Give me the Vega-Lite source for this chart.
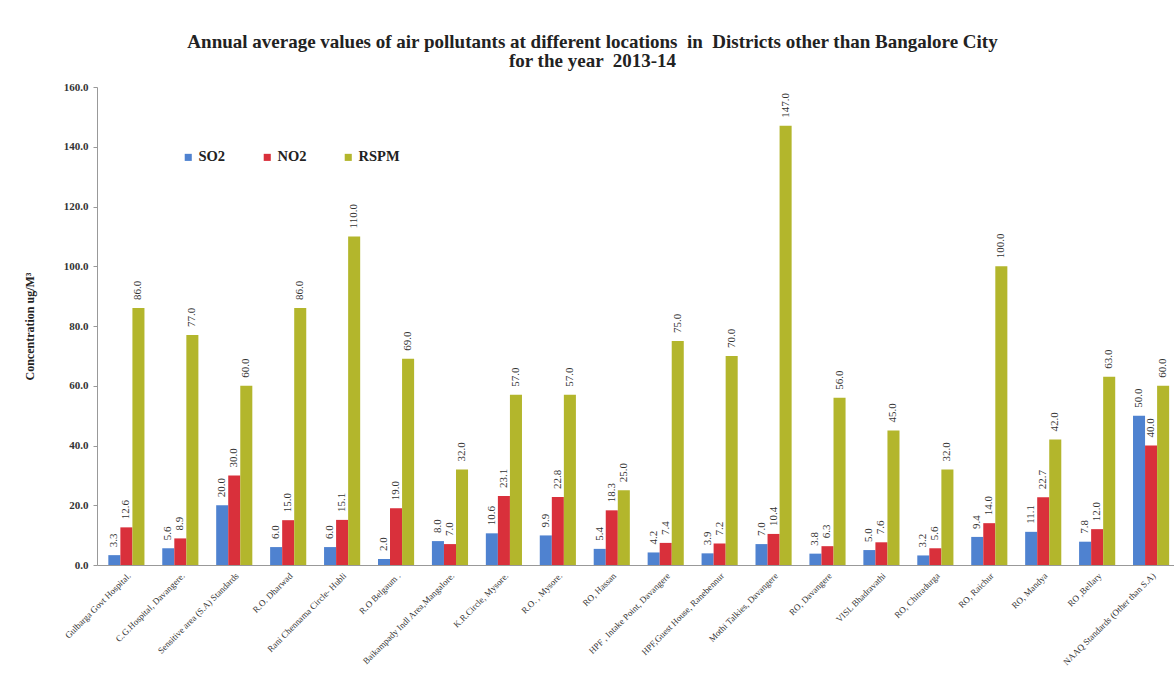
{
  "$schema": "https://vega.github.io/schema/vega-lite/v6.json",
  "autosize": {"type": "none"},
  "width": 1077,
  "height": 478,
  "padding": {"left": 97, "top": 87, "right": 0, "bottom": 113},
  "background": "white",
  "title": {
    "text": ["Annual average values of air pollutants at different locations \u00a0in \u00a0Districts other than Bangalore City", "for the year \u00a02013-14"],
    "font": "Liberation Serif",
    "fontSize": 19,
    "fontWeight": "bold",
    "color": "#222",
    "anchor": "middle",
    "frame": "group",
    "dx": -43,
    "offset": 10,
    "lineHeight": 19
  },
  "config": {
    "view": {"stroke": null},
    "font": "Liberation Serif"
  },
  "data": {
    "values": [
      {"location": "Gulbarga Govt Hospital.", "pollutant": "SO2", "value": 3.3},
      {"location": "Gulbarga Govt Hospital.", "pollutant": "NO2", "value": 12.6},
      {"location": "Gulbarga Govt Hospital.", "pollutant": "RSPM", "value": 86.0},
      {"location": "C.G.Hospital, Davangere.", "pollutant": "SO2", "value": 5.6},
      {"location": "C.G.Hospital, Davangere.", "pollutant": "NO2", "value": 8.9},
      {"location": "C.G.Hospital, Davangere.", "pollutant": "RSPM", "value": 77.0},
      {"location": "Sensitive area (S.A) Standards", "pollutant": "SO2", "value": 20.0},
      {"location": "Sensitive area (S.A) Standards", "pollutant": "NO2", "value": 30.0},
      {"location": "Sensitive area (S.A) Standards", "pollutant": "RSPM", "value": 60.0},
      {"location": "R.O. Dharwad", "pollutant": "SO2", "value": 6.0},
      {"location": "R.O. Dharwad", "pollutant": "NO2", "value": 15.0},
      {"location": "R.O. Dharwad", "pollutant": "RSPM", "value": 86.0},
      {"location": "Rani Chennama Circle- Hubli", "pollutant": "SO2", "value": 6.0},
      {"location": "Rani Chennama Circle- Hubli", "pollutant": "NO2", "value": 15.1},
      {"location": "Rani Chennama Circle- Hubli", "pollutant": "RSPM", "value": 110.0},
      {"location": "R.O Belgaum .", "pollutant": "SO2", "value": 2.0},
      {"location": "R.O Belgaum .", "pollutant": "NO2", "value": 19.0},
      {"location": "R.O Belgaum .", "pollutant": "RSPM", "value": 69.0},
      {"location": "Baikampady Indl Area,Mangalore.", "pollutant": "SO2", "value": 8.0},
      {"location": "Baikampady Indl Area,Mangalore.", "pollutant": "NO2", "value": 7.0},
      {"location": "Baikampady Indl Area,Mangalore.", "pollutant": "RSPM", "value": 32.0},
      {"location": "K.R.Circle, Mysore.", "pollutant": "SO2", "value": 10.6},
      {"location": "K.R.Circle, Mysore.", "pollutant": "NO2", "value": 23.1},
      {"location": "K.R.Circle, Mysore.", "pollutant": "RSPM", "value": 57.0},
      {"location": "R.O. , Mysore.", "pollutant": "SO2", "value": 9.9},
      {"location": "R.O. , Mysore.", "pollutant": "NO2", "value": 22.8},
      {"location": "R.O. , Mysore.", "pollutant": "RSPM", "value": 57.0},
      {"location": "RO, Hassan", "pollutant": "SO2", "value": 5.4},
      {"location": "RO, Hassan", "pollutant": "NO2", "value": 18.3},
      {"location": "RO, Hassan", "pollutant": "RSPM", "value": 25.0},
      {"location": "HPF , Intake Point, Davangere", "pollutant": "SO2", "value": 4.2},
      {"location": "HPF , Intake Point, Davangere", "pollutant": "NO2", "value": 7.4},
      {"location": "HPF , Intake Point, Davangere", "pollutant": "RSPM", "value": 75.0},
      {"location": "HPF,Guest House, Ranebennur", "pollutant": "SO2", "value": 3.9},
      {"location": "HPF,Guest House, Ranebennur", "pollutant": "NO2", "value": 7.2},
      {"location": "HPF,Guest House, Ranebennur", "pollutant": "RSPM", "value": 70.0},
      {"location": "Mothi Talkies, Davangere", "pollutant": "SO2", "value": 7.0},
      {"location": "Mothi Talkies, Davangere", "pollutant": "NO2", "value": 10.4},
      {"location": "Mothi Talkies, Davangere", "pollutant": "RSPM", "value": 147.0},
      {"location": "RO, Davangere", "pollutant": "SO2", "value": 3.8},
      {"location": "RO, Davangere", "pollutant": "NO2", "value": 6.3},
      {"location": "RO, Davangere", "pollutant": "RSPM", "value": 56.0},
      {"location": "VISL Bhadravathi", "pollutant": "SO2", "value": 5.0},
      {"location": "VISL Bhadravathi", "pollutant": "NO2", "value": 7.6},
      {"location": "VISL Bhadravathi", "pollutant": "RSPM", "value": 45.0},
      {"location": "RO, Chitradurga", "pollutant": "SO2", "value": 3.2},
      {"location": "RO, Chitradurga", "pollutant": "NO2", "value": 5.6},
      {"location": "RO, Chitradurga", "pollutant": "RSPM", "value": 32.0},
      {"location": "RO, Raichur", "pollutant": "SO2", "value": 9.4},
      {"location": "RO, Raichur", "pollutant": "NO2", "value": 14.0},
      {"location": "RO, Raichur", "pollutant": "RSPM", "value": 100.0},
      {"location": "RO, Mandya", "pollutant": "SO2", "value": 11.1},
      {"location": "RO, Mandya", "pollutant": "NO2", "value": 22.7},
      {"location": "RO, Mandya", "pollutant": "RSPM", "value": 42.0},
      {"location": "RO ,Bellary", "pollutant": "SO2", "value": 7.8},
      {"location": "RO ,Bellary", "pollutant": "NO2", "value": 12.0},
      {"location": "RO ,Bellary", "pollutant": "RSPM", "value": 63.0},
      {"location": "NAAQ Standards (Other than S.A)", "pollutant": "SO2", "value": 50.0},
      {"location": "NAAQ Standards (Other than S.A)", "pollutant": "NO2", "value": 40.0},
      {"location": "NAAQ Standards (Other than S.A)", "pollutant": "RSPM", "value": 60.0}
    ]
  },
  "encoding": {
    "x": {
      "field": "location",
      "type": "nominal",
      "sort": null,
      "scale": {"paddingInner": 0.33, "paddingOuter": 0.15, "align": 0.7},
      "axis": {
        "title": null,
        "labelAngle": -45,
        "labelFontSize": 9,
        "labelColor": "#333",
        "labelFont": "Liberation Serif",
        "ticks": false,
        "labelPadding": 6,
        "labelLimit": 220,
        "domainColor": "#999"
      }
    },
    "xOffset": {
      "field": "pollutant",
      "type": "nominal",
      "sort": ["SO2", "NO2", "RSPM"],
      "scale": {"paddingInner": 0, "paddingOuter": 0}
    },
    "y": {
      "field": "value",
      "type": "quantitative",
      "scale": {"domain": [0, 160], "nice": false},
      "axis": {
        "title": "Concentration ug/M³",
        "titleFont": "Liberation Serif",
        "titleFontSize": 12,
        "titleFontWeight": "bold",
        "titleColor": "#222",
        "titlePadding": 27,
        "values": [0, 20, 40, 60, 80, 100, 120, 140, 160],
        "format": ".1f",
        "labelFont": "Liberation Serif",
        "labelFontSize": 11,
        "labelFontWeight": "bold",
        "labelColor": "#333",
        "grid": false,
        "tickSize": 4,
        "tickColor": "#999",
        "domainColor": "#999",
        "labelPadding": 5
      }
    }
  },
  "layer": [
    {
      "mark": {"type": "bar"},
      "encoding": {
        "color": {
          "field": "pollutant",
          "type": "nominal",
          "sort": ["SO2", "NO2", "RSPM"],
          "scale": {"domain": ["SO2", "NO2", "RSPM"], "range": ["#4f82d0", "#d9303b", "#b3b62c"]},
          "legend": {
            "title": null,
            "orient": "none",
            "legendX": 84,
            "legendY": 63,
            "direction": "horizontal",
            "columns": 3,
            "symbolType": "square",
            "symbolSize": 50,
            "symbolStrokeWidth": 0,
            "labelFont": "Liberation Serif",
            "labelFontSize": 14.5,
            "labelFontWeight": "bold",
            "labelColor": "#222",
            "labelOffset": 3,
            "columnPadding": 34
          }
        }
      }
    },
    {
      "mark": {
        "type": "text",
        "angle": 270,
        "align": "left",
        "baseline": "middle",
        "dx": 8,
        "fontSize": 11,
        "font": "Liberation Serif",
        "color": "#333"
      },
      "encoding": {
        "text": {"field": "value", "type": "quantitative", "format": ".1f"}
      }
    }
  ]
}
